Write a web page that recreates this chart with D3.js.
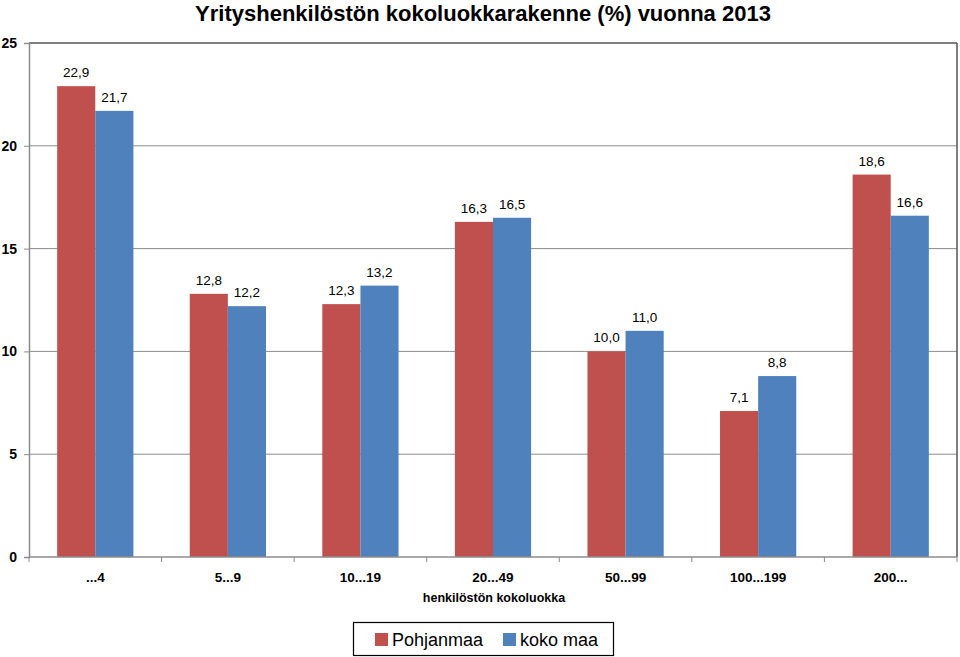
<!DOCTYPE html>
<html>
<head>
<meta charset="utf-8">
<script src="https://cdn.jsdelivr.net/npm/d3@7"></script>
<style>
  body { margin: 0; background: #fff; }
  svg { display: block; font-family: "Liberation Sans", Arial, sans-serif; }
</style>
</head>
<body>
<svg></svg>
<script>
// data
const categories = ["...4", "5...9", "10...19", "20...49", "50...99", "100...199", "200..."];
const pohjanmaa = [22.9, 12.8, 12.3, 16.3, 10.0, 7.1, 18.6];
const kokoMaa = [21.7, 12.2, 13.2, 16.5, 11.0, 8.8, 16.6];
const seriesNames = ["Pohjanmaa", "koko maa"];
const seriesColors = ["#C0504D", "#4F81BD"];
const yTicks = [0, 5, 10, 15, 20, 25];

const width = 960;
const height = 657;
const margin = { top: 43, right: 3, bottom: 100, left: 29 };

const svg = d3.select("svg").attr("width", width).attr("height", height);

const x = d3
  .scaleBand()
  .domain(categories)
  .range([margin.left, width - margin.right])
  .paddingInner(0.425)
  .paddingOuter(0.2125);

const x1 = d3.scaleBand().domain(seriesNames).range([0, x.bandwidth()]);

const y = d3
  .scaleLinear()
  .domain([0, 25])
  .range([height - margin.bottom, margin.top]);

// gridlines
svg
  .append("g")
  .selectAll("line")
  .data(yTicks.filter((d) => d > 0))
  .enter()
  .append("line")
  .attr("x1", margin.left)
  .attr("x2", width - margin.right)
  .attr("y1", (d) => y(d))
  .attr("y2", (d) => y(d))
  .attr("stroke", (d) => (d === 25 ? "#555" : "#8c8c8c"))
  .attr("stroke-width", (d) => (d === 25 ? 1.5 : 1));

// right border of plot area
svg
  .append("line")
  .attr("x1", width - margin.right)
  .attr("x2", width - margin.right)
  .attr("y1", y(25))
  .attr("y2", y(0))
  .attr("stroke", "#555")
  .attr("stroke-width", 1.5);

// bars
const rows = categories.map((c, i) => ({ cat: c, vals: [pohjanmaa[i], kokoMaa[i]] }));

const groups = svg
  .append("g")
  .selectAll("g")
  .data(rows)
  .enter()
  .append("g")
  .attr("transform", (d) => "translate(" + x(d.cat) + ",0)");

groups
  .selectAll("rect")
  .data((d) => d.vals.map((v, j) => ({ name: seriesNames[j], v: v, j: j })))
  .enter()
  .append("rect")
  .attr("x", (d) => x1(d.name))
  .attr("width", x1.bandwidth())
  .attr("y", (d) => y(d.v))
  .attr("height", (d) => y(0) - y(d.v))
  .attr("fill", (d) => seriesColors[d.j]);

groups
  .selectAll("text")
  .data((d) => d.vals.map((v, j) => ({ name: seriesNames[j], v: v })))
  .enter()
  .append("text")
  .attr("x", (d) => x1(d.name) + x1.bandwidth() / 2)
  .attr("y", (d) => y(d.v) - 9)
  .attr("text-anchor", "middle")
  .attr("font-size", "13.5px")
  .attr("fill", "#000")
  .text((d) => d.v.toFixed(1).replace(".", ","));

// y axis
const yAxis = svg
  .append("g")
  .attr("transform", "translate(" + margin.left + ",0)")
  .call(d3.axisLeft(y).tickValues(yTicks).tickSize(5).tickPadding(7));
yAxis.select(".domain").attr("stroke", "#8c8c8c").attr("stroke-width", 1.5);
yAxis.selectAll(".tick line").attr("stroke", "#8c8c8c");
yAxis.selectAll("text").attr("font-size", "14px").attr("font-weight", "bold").attr("fill", "#000");

// x axis, ticks between categories
const boundaries = d3.range(categories.length + 1).map((i) => margin.left + i * x.step());
const xAxisG = svg.append("g");
xAxisG
  .append("line")
  .attr("x1", margin.left)
  .attr("x2", width - margin.right)
  .attr("y1", y(0))
  .attr("y2", y(0))
  .attr("stroke", "#8c8c8c")
  .attr("stroke-width", 1.5);
xAxisG
  .selectAll(".xt")
  .data(boundaries)
  .enter()
  .append("line")
  .attr("x1", (d) => d)
  .attr("x2", (d) => d)
  .attr("y1", y(0))
  .attr("y2", y(0) + 5)
  .attr("stroke", "#8c8c8c");
xAxisG
  .selectAll("text")
  .data(categories)
  .enter()
  .append("text")
  .attr("x", (d) => x(d) + x.bandwidth() / 2)
  .attr("y", y(0) + 25)
  .attr("text-anchor", "middle")
  .attr("font-size", "13.5px")
  .attr("font-weight", "bold")
  .text((d) => d);

// title
svg
  .append("text")
  .attr("x", 483)
  .attr("y", 21)
  .attr("text-anchor", "middle")
  .attr("font-size", "22px")
  .attr("font-weight", "bold")
  .text("Yrityshenkilöstön kokoluokkarakenne (%) vuonna 2013");

// x label
svg
  .append("text")
  .attr("x", 494)
  .attr("y", 602)
  .attr("text-anchor", "middle")
  .attr("font-size", "12.5px")
  .attr("font-weight", "bold")
  .text("henkilöstön kokoluokka");

// legend
const legend = svg.append("g").attr("transform", "translate(353,622)");
legend
  .append("rect")
  .attr("x", 0.5)
  .attr("y", 0.5)
  .attr("width", 260)
  .attr("height", 33)
  .attr("fill", "#fff")
  .attr("stroke", "#000")
  .attr("stroke-width", 1.2);
const legendX = [22, 150];
const items = legend
  .selectAll(".item")
  .data(seriesNames)
  .enter()
  .append("g")
  .attr("transform", (d, i) => "translate(" + legendX[i] + ",0)");
items
  .append("rect")
  .attr("x", 0)
  .attr("y", 11)
  .attr("width", 13)
  .attr("height", 13)
  .attr("fill", (d, i) => seriesColors[i]);
items
  .append("text")
  .attr("x", 17)
  .attr("y", 24)
  .attr("font-size", "18px")
  .text((d) => d);
</script>
</body>
</html>
